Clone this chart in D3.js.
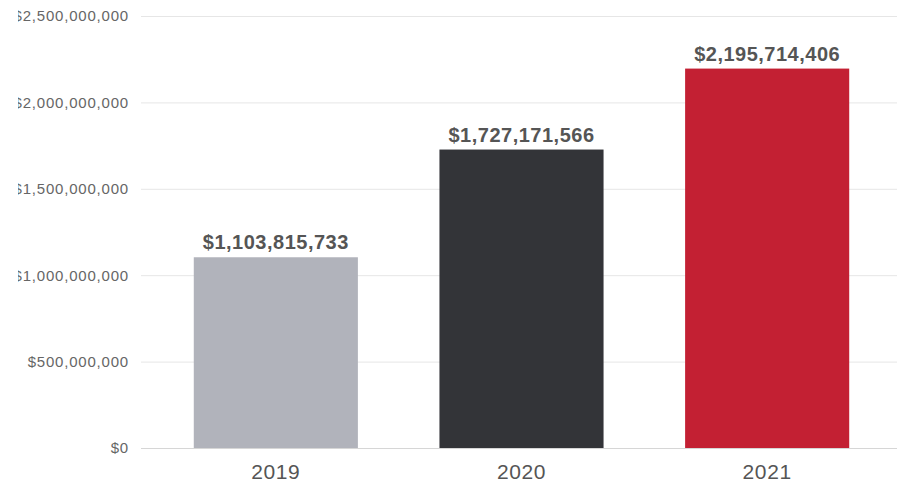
<!doctype html>
<html>
<head>
<meta charset="UTF-8">
<script src="https://cdnjs.cloudflare.com/ajax/libs/d3/7.8.5/d3.min.js"></script>
<style>
  body { margin: 0; background: #fff; }
  svg { display: block; font-family: "Liberation Sans", Arial, sans-serif; }
</style>
</head>
<body>
<div id="chart"></div>
<script>
// data
var years = ["2019", "2020", "2021"];
var totals = [1103815733, 1727171566, 2195714406];
var barColors = ["#b1b3bb", "#333438", "#c32033"];
var yTicks = [0, 500000000, 1000000000, 1500000000, 2000000000, 2500000000];

var W = 907, H = 482;

var svg = d3.select("#chart").append("svg")
  .attr("width", W)
  .attr("height", H);

// left edge of the long tick labels is cut off in the original
svg.append("clipPath").attr("id", "clip")
  .append("rect").attr("x", 18).attr("y", 0).attr("width", W - 18).attr("height", H);

var g = svg.append("g").attr("clip-path", "url(#clip)");

var x = d3.scaleBand().domain(years).range([153, 890])
  .paddingInner(0.332).paddingOuter(0.166);
var y = d3.scaleLinear().domain([0, 2500000000]).range([448, 16]);

var money = d3.format("$,.0f");

// grid + y labels
var yAxis = d3.axisLeft(y).tickValues(yTicks).tickSize(-(897 - 141)).tickPadding(12).tickFormat(money);
var ya = g.append("g").attr("transform", "translate(141,0)").call(yAxis);
ya.select(".domain").remove();
ya.selectAll(".tick line").attr("stroke", d => d === 0 ? "#d6d6d6" : "#e6e6e6");
ya.selectAll(".tick text").attr("fill", "#666")
  .attr("font-family", "Liberation Sans, Arial, sans-serif")
  .style("font-size", "15px")
  .style("letter-spacing", "0.8px");

// bars
g.append("g").selectAll("rect")
  .data(years)
  .enter().append("rect")
    .attr("x", d => x(d))
    .attr("y", (d, i) => y(totals[i]))
    .attr("width", x.bandwidth())
    .attr("height", (d, i) => y(0) - y(totals[i]))
    .attr("fill", (d, i) => barColors[i]);

// value labels
g.append("g").selectAll("text")
  .data(years)
  .enter().append("text")
    .attr("x", d => x(d) + x.bandwidth() / 2)
    .attr("y", (d, i) => y(totals[i]) - 8)
    .attr("text-anchor", "middle")
    .attr("fill", "#555")
    .style("font-size", "20px")
    .style("font-weight", "bold")
    .style("letter-spacing", "0.5px")
    .text((d, i) => money(totals[i]));

// x axis labels
g.append("g").selectAll("text")
  .data(years)
  .enter().append("text")
    .attr("x", d => x(d) + x.bandwidth() / 2)
    .attr("y", 479)
    .attr("text-anchor", "middle")
    .attr("fill", "#555")
    .style("font-size", "21px")
    .style("letter-spacing", "0.6px")
    .text(d => d);
</script>
</body>
</html>
